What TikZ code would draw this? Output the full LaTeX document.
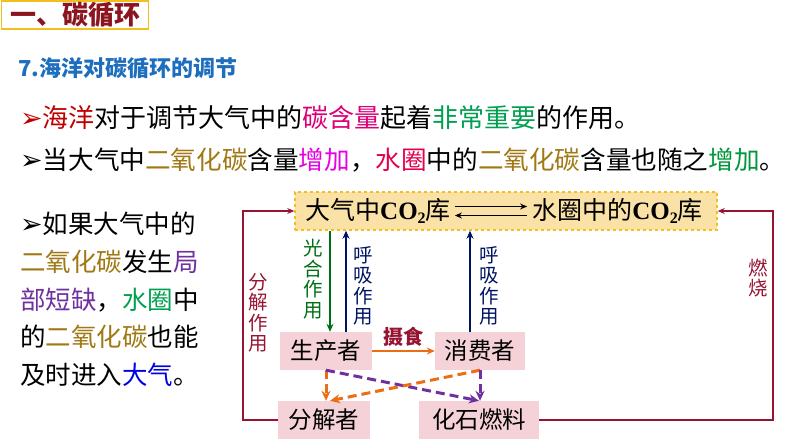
\documentclass[tikz,border=0pt]{standalone}
\usepackage{fontspec}
\setmainfont{Noto Sans CJK SC}
\newfontfamily\dejavu{DejaVu Sans}
\newfontfamily\timesbf{Liberation Serif}
\usepackage{xcolor}
\usetikzlibrary{positioning, arrows.meta, calc}

\definecolor{titlered}{RGB}{140,20,30}
\definecolor{gold}{RGB}{242,192,30}
\definecolor{headblue}{RGB}{30,110,190}
\definecolor{seared}{RGB}{192,0,0}
\definecolor{carbonpink}{RGB}{220,0,120}
\definecolor{keygreen}{RGB}{0,160,80}
\definecolor{olive}{RGB}{160,120,20}
\definecolor{risemag}{RGB}{230,0,230}
\definecolor{waterred}{RGB}{230,0,80}
\definecolor{risegreen}{RGB}{0,150,60}
\definecolor{lackpurple}{RGB}{112,48,160}
\definecolor{airblue}{RGB}{0,0,230}
\definecolor{poolfill}{RGB}{250,225,165}
\definecolor{nodepink}{RGB}{245,210,215}
\definecolor{photogreen}{RGB}{0,110,20}
\definecolor{navy}{RGB}{0,20,100}
\definecolor{darkred}{RGB}{150,20,50}
\definecolor{feedorange}{RGB}{235,110,20}

\newcommand{\tipmark}{{\dejavu\fontsize{27}{27}\selectfont ➢}}
\newcommand{\cotwo}{{\timesbf\bfseries CO\raisebox{-0.35ex}{\fontsize{16}{16}\selectfont 2}}}

\begin{document}
\begin{tikzpicture}[
  x=1pt, y=-1pt,
  >=Stealth,
  every node/.style={inner sep=0pt},
  organism/.style={fill=nodepink, minimum height=38pt, font=\fontsize{23.5}{24}\selectfont},
  vlabel/.style={align=center, font=\fontsize{19.5}{20.5}\selectfont},
  route/.style={-{Stealth[length=7pt,width=6pt]}, line width=1.6pt, darkred},
  feed/.style={-{Stealth[length=10pt,width=9pt]}, line width=3pt, dash pattern=on 9pt off 5pt}
]
\useasboundingbox (0,0) rectangle (794,447);

% Heading
\node[draw=gold, fill=white, line width=1.5pt, minimum width=147pt, minimum height=28pt,
  font=\bfseries\fontsize{26}{26}\selectfont, text=titlered] (title) at (75,15) {一、碳循环};
\node[anchor=west, font=\bfseries\fontsize{22}{22}\selectfont, text=headblue] (head) at (18,68) {7.海洋对碳循环的调节};

% Statements
\node[anchor=west, font=\fontsize{26}{26}\selectfont] (line1) at (20,118)
  {\textcolor{seared}{\tipmark}\textcolor{seared}{海洋}对于调节大气中的\textcolor{carbonpink}{碳含量}起着\textcolor{keygreen}{非常重要}的作用。};
\node[anchor=west, font=\fontsize{25.6}{26}\selectfont] (line2) at (20,160)
  {\tipmark 当大气中\textcolor{olive}{二氧化碳}含量\textcolor{risemag}{增加}，\textcolor{waterred}{水圈}中的\textcolor{olive}{二氧化碳}含量也随之\textcolor{risegreen}{增加}。};
\node[anchor=north west, align=left, font=\fontsize{25.5}{37.7}\selectfont] (note) at (20,212)
  {\tipmark 如果大气中的\\
   \textcolor{olive}{二氧化碳}发生\textcolor{lackpurple}{局}\\
   \textcolor{lackpurple}{部短缺}，\textcolor{keygreen}{水圈}中\\
   的\textcolor{olive}{二氧化碳}也能\\
   及时进入\textcolor{airblue}{大气}。};

% CO2 pools
\node[fill=poolfill, draw=gold, dashed, line width=1.5pt, minimum width=422pt, minimum height=38pt] (pool) at (506,211) {};
\node[anchor=west, font=\fontsize{25}{25}\selectfont] (atm) at (305,211) {大气中\cotwo 库};
\node[anchor=east, font=\fontsize{25}{25}\selectfont] (hyd) at (703,211) {水圈中的\cotwo 库};
\draw[-{Stealth[length=7pt,width=6pt]}, line width=1.8pt, shorten <=4pt, shorten >=5pt] ([yshift=4.5pt]atm.east) -- ([yshift=4.5pt]hyd.west);
\draw[-{Stealth[length=7pt,width=6pt]}, line width=1.8pt, shorten <=5pt, shorten >=4pt] ([yshift=-4.5pt]hyd.west) -- ([yshift=-4.5pt]atm.east);

% Organisms
\node[organism, minimum width=92pt] (prod) at (326,351) {生产者};
\node[organism, minimum width=90pt] (cons) at (480,351) {消费者};
\node[organism, minimum width=92pt] (decomp) at (324,420) {分解者};
\node[organism, minimum width=120pt] (fossil) at (479,420) {化石燃料};

% Exchange with the air
\coordinate (photo) at ($(prod.north)+(4,0)$);
\coordinate (resp1) at ($(prod.north)+(20,0)$);
\coordinate (resp2) at ($(cons.north)+(-10,0)$);
\draw[-{Stealth[length=8pt,width=7pt]}, line width=1.8pt, photogreen] (pool.south -| photo) -- (photo);
\draw[-{Stealth[length=8pt,width=7pt]}, line width=1.8pt, navy] (resp1) -- (pool.south -| resp1);
\draw[-{Stealth[length=8pt,width=7pt]}, line width=1.8pt, navy] (resp2) -- (pool.south -| resp2);
\node[vlabel, text=photogreen] (photolbl) at (313,279) {光\\合\\作\\用};
\node[vlabel, text=navy] (resplbl1) at (363,286) {呼\\吸\\作\\用};
\node[vlabel, text=navy] (resplbl2) at (489,286) {呼\\吸\\作\\用};

% Food chain
\draw[-{Stealth[length=8pt,width=7pt]}, line width=1.8pt, feedorange] (prod) -- (cons);
\node[font=\bfseries\fontsize{20}{20}\selectfont, text=darkred] (feedlbl) at (403,337) {摄食};

% Dead matter
\draw[feed, feedorange] (prod.south) -- (prod.south |- decomp.north);
\draw[feed, lackpurple] (prod.south) -- (fossil.north);
\draw[feed, feedorange] (cons.south) -- ($(decomp.north)+(6,0)$);
\draw[feed, lackpurple] (cons.south) -- (cons.south |- fossil.north);

% Return to the air
\coordinate (leftrail) at (243,0);
\coordinate (rightrail) at (773,0);
\draw[route] (decomp.west) -| (leftrail |- pool.west) -- (pool.west);
\draw[route] (fossil.east) -| (rightrail |- pool.east) -- (pool.east);
\node[vlabel, text=darkred] (decolbl) at (258,313) {分\\解\\作\\用};
\node[vlabel, text=darkred] (burnlbl) at (758,278) {燃\\烧};

\end{tikzpicture}
\end{document}
